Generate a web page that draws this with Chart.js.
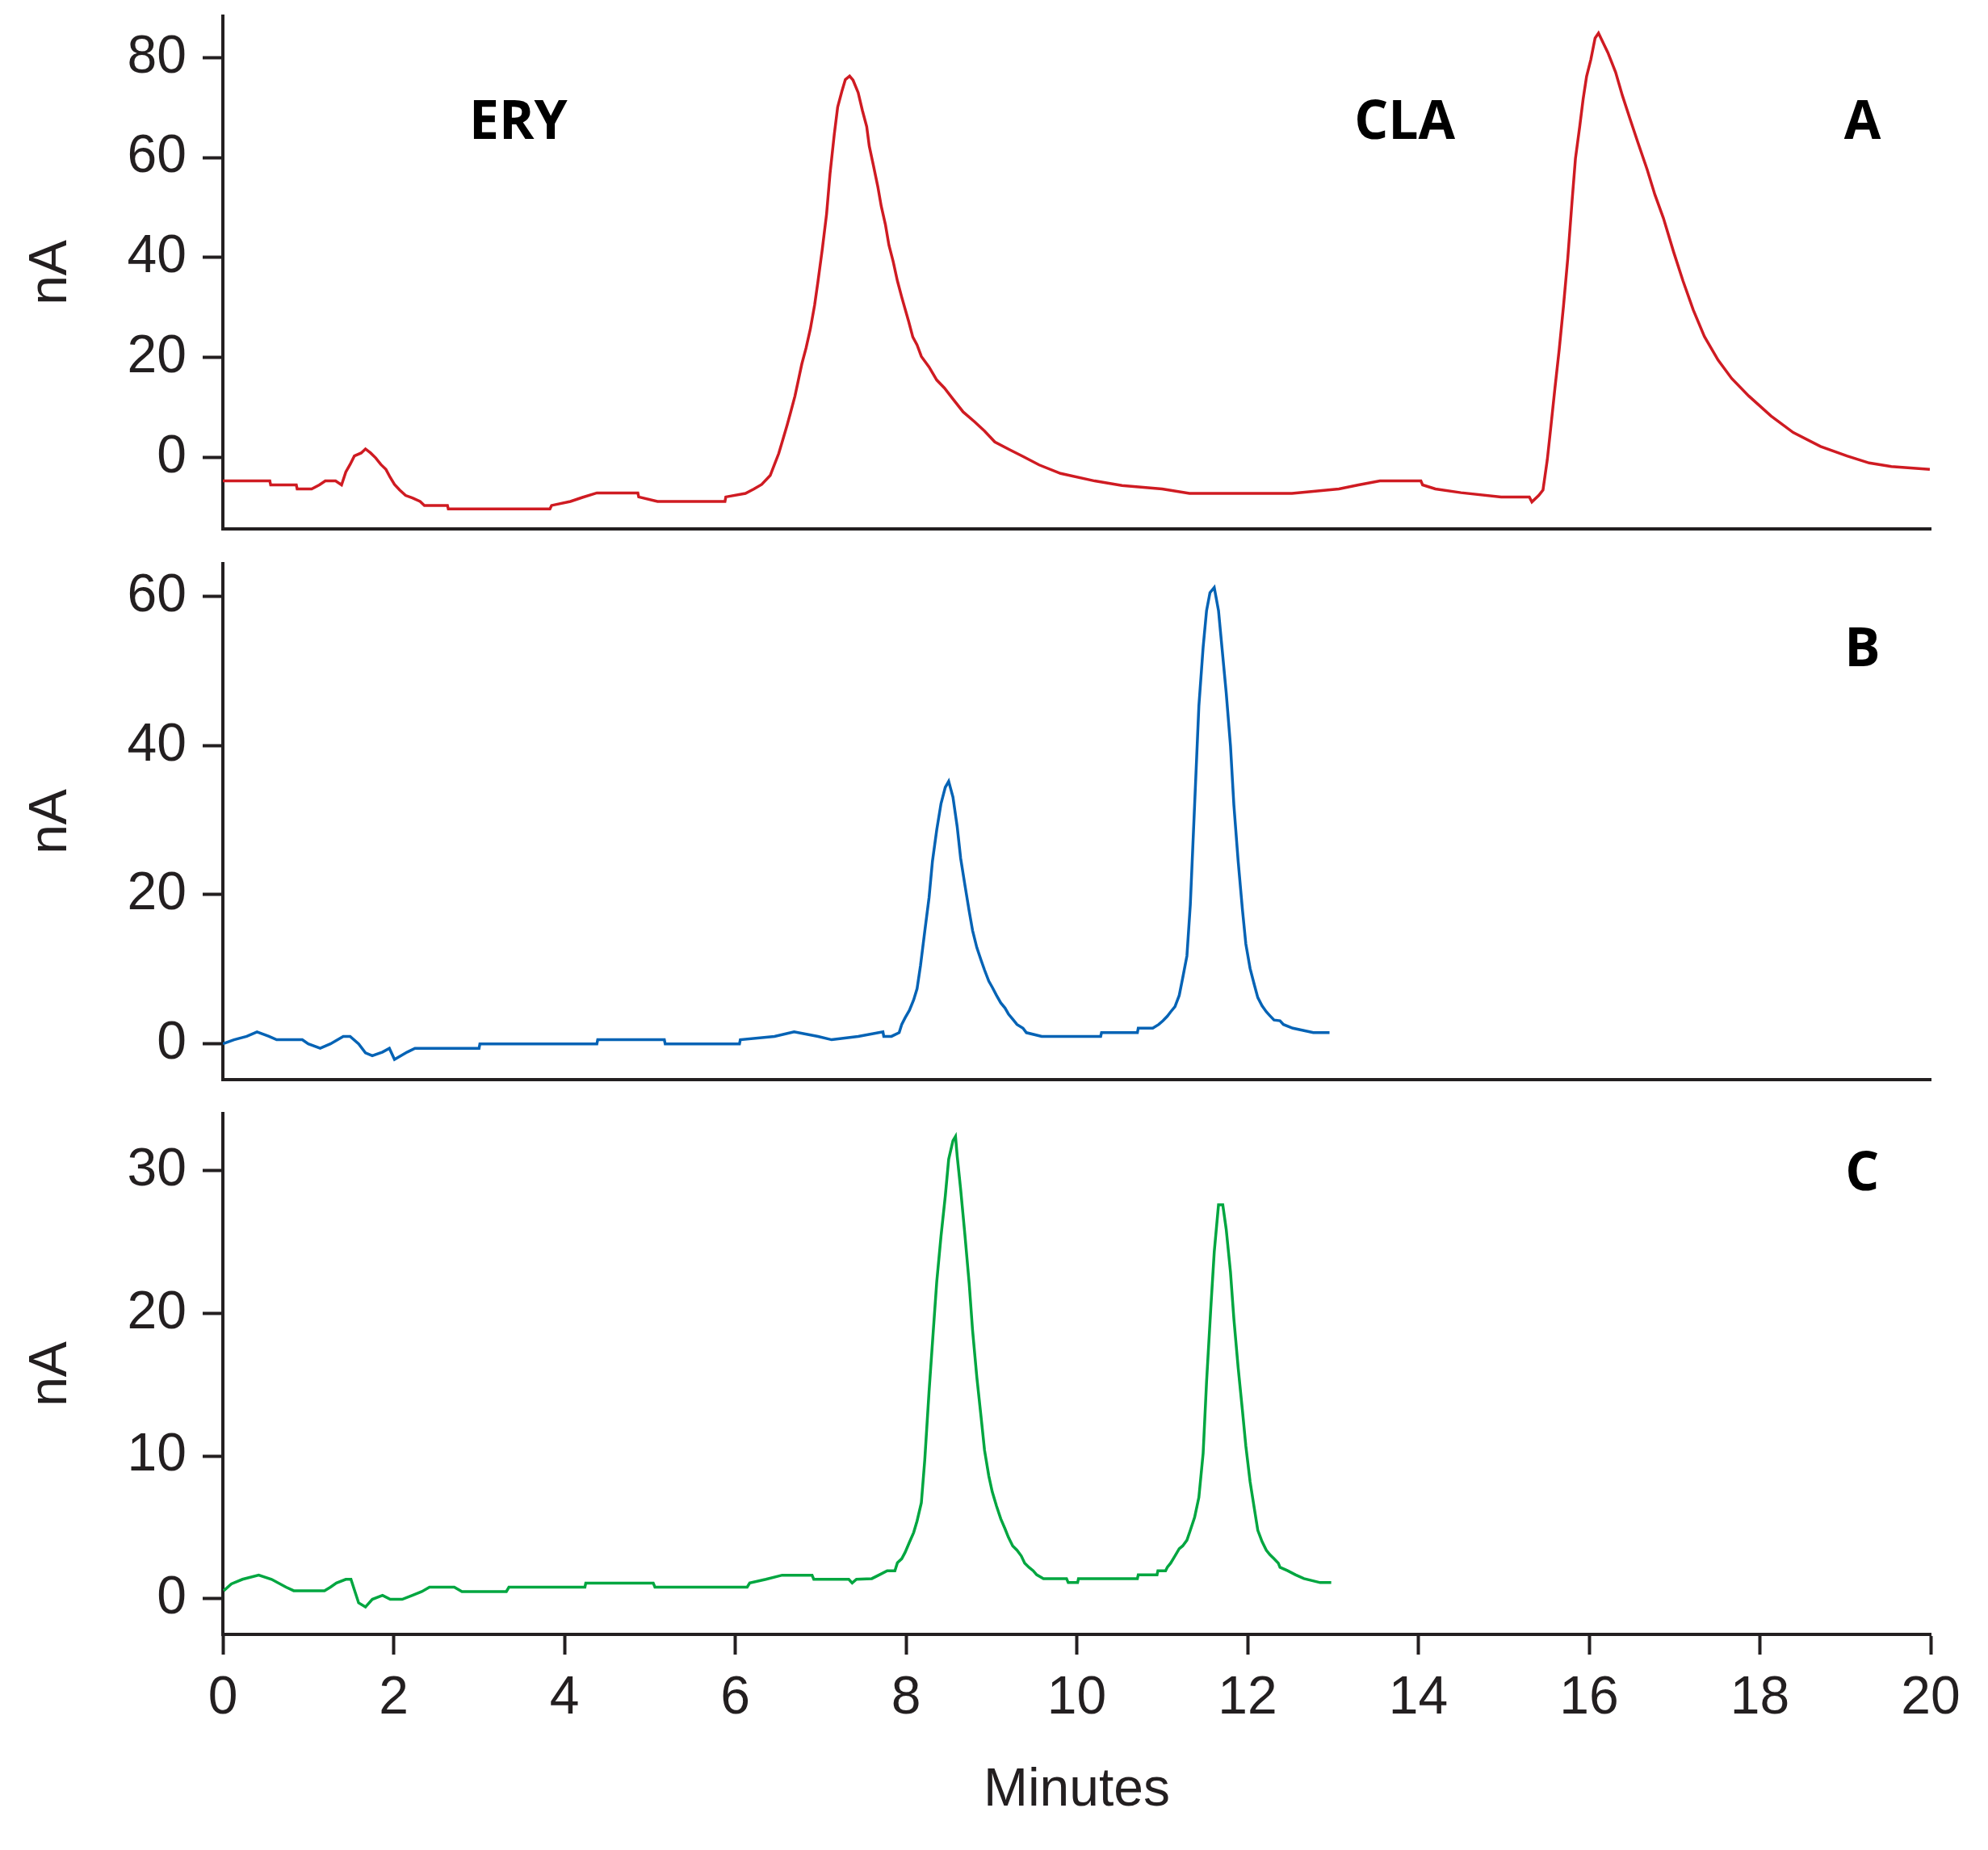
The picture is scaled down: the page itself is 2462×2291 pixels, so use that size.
<!DOCTYPE html>
<html>
<head>
<meta charset="utf-8">
<script src="https://cdn.jsdelivr.net/npm/chart.js@4.4.0/dist/chart.umd.min.js"></script>
<style>
  html, body { margin: 0; padding: 0; background: #fff; }
  body { width: 2462px; height: 2291px; position: relative; overflow: hidden; }
  canvas { position: absolute; left: 0; }
</style>
</head>
<body>
<canvas id="chartA" width="2462" height="690" style="top:0px"></canvas>
<canvas id="chartB" width="2462" height="690" style="top:680px"></canvas>
<canvas id="chartC" width="2462" height="931" style="top:1360px"></canvas>
<script>
// trace A (red) - time in minutes, signal in nA
const aTimes = [0.00, 0.55, 0.56, 0.86, 0.87, 1.04, 1.13, 1.20, 1.32, 1.39, 1.44, 1.49, 1.54, 1.62, 1.67, 1.73, 1.79, 1.85, 1.91, 1.96,
  2.01, 2.07, 2.14, 2.22, 2.31, 2.36, 2.63, 2.64, 3.83, 3.85, 4.07, 4.21, 4.38, 4.86, 4.87, 5.09, 5.88, 5.89, 6.12, 6.22,
  6.31, 6.41, 6.46, 6.51, 6.55, 6.61, 6.65, 6.70, 6.74, 6.78, 6.83, 6.88, 6.93, 6.97, 7.02, 7.07, 7.11, 7.16, 7.20, 7.25,
  7.29, 7.34, 7.38, 7.44, 7.49, 7.54, 7.57, 7.62, 7.67, 7.71, 7.76, 7.80, 7.85, 7.90, 7.95, 7.99, 8.03, 8.08, 8.13, 8.18,
  8.27, 8.36, 8.45, 8.55, 8.67, 8.80, 8.92, 9.04, 9.22, 9.37, 9.56, 9.81, 10.21, 10.53, 11.00, 11.32, 12.52, 13.07, 13.30, 13.55,
  14.03, 14.05, 14.20, 14.50, 14.97, 15.30, 15.33, 15.41, 15.46, 15.51, 15.55, 15.60, 15.65, 15.70, 15.75, 15.80, 15.84, 15.89, 15.93, 15.97,
  16.02, 16.07, 16.11, 16.22, 16.31, 16.39, 16.48, 16.57, 16.68, 16.77, 16.87, 16.99, 17.10, 17.22, 17.35, 17.51, 17.67, 17.87, 18.13, 18.39,
  18.71, 19.02, 19.28, 19.54, 19.99];
const aValues = [-4.7, -4.7, -5.5, -5.5, -6.3, -6.3, -5.5, -4.7, -4.7, -5.5, -2.9, -1.4, 0.3, 0.9, 1.7, 0.9, -0.1, -1.4, -2.4, -4.0,
  -5.4, -6.5, -7.6, -8.1, -8.8, -9.6, -9.6, -10.3, -10.3, -9.6, -8.8, -8.0, -7.1, -7.1, -7.9, -8.8, -8.8, -7.9, -7.2, -6.3,
  -5.4, -3.6, -1.4, 0.8, 3.1, 6.6, 9.1, 12.3, 15.5, 18.7, 21.9, 25.7, 30.5, 35.3, 41.7, 48.7, 56.7, 64.6, 70.1, 73.3,
  75.6, 76.3, 75.5, 73.0, 69.4, 66.2, 62.3, 58.3, 54.2, 50.3, 46.5, 42.5, 39.2, 35.3, 32.1, 29.7, 27.3, 24.1, 22.5, 20.2,
  18.1, 15.5, 13.9, 11.7, 9.1, 7.2, 5.3, 3.1, 1.5, 0.2, -1.5, -3.2, -4.7, -5.6, -6.3, -7.2, -7.2, -6.3, -5.5, -4.7,
  -4.7, -5.5, -6.3, -7.05, -7.9, -7.9, -8.9, -7.6, -6.5, -0.5, 5.8, 13.9, 21.6, 30.3, 39.8, 51.2, 59.8, 66.2, 71.7, 76.2,
  79.6, 83.9, 84.9, 81.0, 77.1, 72.4, 67.7, 63.1, 57.6, 52.6, 47.9, 41.1, 35.3, 29.5, 24.2, 19.5, 15.8, 12.3, 8.3, 5.0,
  2.2, 0.3, -1.1, -1.8, -2.4];

// trace B (blue)
const bTimes = [0.00, 0.13, 0.28, 0.40, 0.54, 0.63, 0.93, 1.00, 1.14, 1.26, 1.41, 1.49, 1.59, 1.67, 1.75, 1.87, 1.95, 2.01, 2.16, 2.25,
  3.00, 3.01, 4.38, 4.39, 5.17, 5.18, 6.05, 6.06, 6.46, 6.69, 6.97, 7.13, 7.44, 7.73, 7.74, 7.83, 7.92, 7.95, 7.99, 8.04,
  8.09, 8.13, 8.17, 8.22, 8.27, 8.31, 8.36, 8.41, 8.46, 8.50, 8.55, 8.60, 8.64, 8.69, 8.74, 8.78, 8.83, 8.88, 8.92, 8.97,
  9.01, 9.06, 9.11, 9.16, 9.20, 9.25, 9.30, 9.37, 9.41, 9.59, 10.28, 10.29, 10.71, 10.72, 10.89, 10.96, 11.01, 11.06, 11.10, 11.15,
  11.20, 11.24, 11.29, 11.33, 11.38, 11.43, 11.48, 11.52, 11.56, 11.61, 11.66, 11.70, 11.75, 11.80, 11.84, 11.89, 11.94, 11.98, 12.03, 12.08,
  12.12, 12.17, 12.22, 12.26, 12.31, 12.38, 12.42, 12.53, 12.77, 12.96];
const bValues = [0.0, 0.55, 1.0, 1.6, 1.0, 0.55, 0.55, 0.0, -0.6, 0.0, 1.0, 1.0, 0.0, -1.2, -1.6, -1.1, -0.6, -2.1, -1.1, -0.6,
  -0.6, 0.0, 0.0, 0.55, 0.55, 0.0, 0.0, 0.55, 1.0, 1.6, 1.0, 0.55, 1.0, 1.6, 1.0, 1.0, 1.5, 2.6, 3.5, 4.5,
  5.9, 7.4, 10.5, 15.1, 19.6, 24.5, 28.7, 32.2, 34.4, 35.2, 33.1, 29.1, 24.9, 21.3, 17.8, 15.2, 12.9, 11.2, 9.9, 8.4,
  7.6, 6.5, 5.5, 4.8, 4.0, 3.3, 2.6, 2.1, 1.5, 1.0, 1.0, 1.5, 1.5, 2.1, 2.1, 2.6, 3.1, 3.7, 4.3, 5.0,
  6.5, 8.8, 11.8, 18.7, 32.0, 45.3, 53.2, 58.1, 60.5, 61.2, 58.1, 53.2, 47.1, 40.0, 32.0, 24.5, 18.0, 13.4, 10.1, 7.9,
  6.2, 5.1, 4.3, 3.8, 3.2, 3.1, 2.6, 2.1, 1.5, 1.5];

// trace C (green)
const cTimes = [0.01, 0.10, 0.23, 0.42, 0.57, 0.74, 0.83, 1.19, 1.26, 1.33, 1.44, 1.50, 1.55, 1.59, 1.67, 1.75, 1.87, 1.96, 2.10, 2.22,
  2.33, 2.42, 2.71, 2.80, 3.32, 3.35, 4.24, 4.25, 5.04, 5.06, 6.14, 6.17, 6.36, 6.55, 6.90, 6.92, 7.33, 7.37, 7.42, 7.60,
  7.69, 7.78, 7.87, 7.90, 7.95, 7.99, 8.04, 8.09, 8.13, 8.18, 8.22, 8.27, 8.32, 8.36, 8.41, 8.46, 8.50, 8.55, 8.58, 8.60,
  8.64, 8.69, 8.74, 8.78, 8.83, 8.88, 8.92, 8.97, 9.01, 9.06, 9.11, 9.16, 9.20, 9.25, 9.30, 9.35, 9.39, 9.44, 9.49, 9.53,
  9.61, 9.88, 9.90, 10.01, 10.02, 10.71, 10.72, 10.94, 10.95, 11.04, 11.06, 11.10, 11.15, 11.20, 11.24, 11.29, 11.33, 11.38, 11.43, 11.48,
  11.52, 11.57, 11.61, 11.66, 11.71, 11.75, 11.80, 11.84, 11.89, 11.94, 11.98, 12.03, 12.08, 12.12, 12.17, 12.22, 12.26, 12.31, 12.36, 12.38,
  12.47, 12.56, 12.66, 12.85, 12.98];
const cValues = [0.56, 1.04, 1.36, 1.65, 1.36, 0.81, 0.56, 0.56, 0.81, 1.1, 1.36, 1.36, 0.44, -0.29, -0.58, -0.04, 0.24, -0.04, -0.04, 0.24,
  0.5, 0.81, 0.81, 0.5, 0.5, 0.81, 0.81, 1.1, 1.1, 0.81, 0.81, 1.1, 1.36, 1.65, 1.65, 1.36, 1.36, 1.1, 1.36, 1.41,
  1.68, 1.96, 1.96, 2.52, 2.8, 3.25, 3.95, 4.64, 5.45, 6.73, 9.73, 14.5, 18.8, 22.2, 25.4, 28.2, 30.8, 32.1, 32.4, 31.0,
  28.7, 25.5, 22.1, 18.8, 15.5, 12.7, 10.4, 8.6, 7.5, 6.5, 5.6, 4.9, 4.3, 3.7, 3.4, 3.0, 2.5, 2.2, 1.96, 1.68,
  1.41, 1.41, 1.13, 1.13, 1.41, 1.41, 1.68, 1.68, 1.96, 1.96, 2.2, 2.5, 3.0, 3.5, 3.7, 4.1, 4.8, 5.7, 7.1, 10.2,
  15.2, 20.4, 24.3, 27.6, 27.6, 25.9, 22.9, 19.6, 16.2, 13.2, 10.7, 8.2, 6.3, 4.8, 4.0, 3.4, 3.1, 2.8, 2.5, 2.2,
  1.96, 1.68, 1.41, 1.13, 1.13];

// tick labels
const xTicks = [0, 2, 4, 6, 8, 10, 12, 14, 16, 18, 20];
const aTicks = [0, 20, 40, 60, 80];
const bTicks = [0, 20, 40, 60];
const cTicks = [0, 10, 20, 30];

// peak names and panel letters
const aNotes = [{ text: "ERY", x: 3.46, y: 66.8 }, { text: "CLA", x: 13.84, y: 66.8 }, { text: "A", x: 19.2, y: 66.8 }];
const bNotes = [{ text: "B", x: 19.2, y: 52.7 }];
const cNotes = [{ text: "C", x: 19.2, y: 29.7 }];

const axisColor = "#231f20";
const tickFont = { family: "'Liberation Sans', Arial, sans-serif", size: 66, weight: "normal" };

function toPoints(times, values) {
  return times.map(function (t, i) { return { x: t, y: values[i] }; });
}

function notesPlugin(notes) {
  return {
    id: "notes",
    afterDatasetsDraw(chart) {
      const ctx = chart.ctx;
      ctx.save();
      ctx.font = "bold 66px 'Open Sans', sans-serif";
      ctx.fillStyle = "#000";
      ctx.textAlign = "center";
      ctx.textBaseline = "middle";
      notes.forEach(function (n) {
        ctx.fillText(n.text, chart.scales.x.getPixelForValue(n.x), chart.scales.y.getPixelForValue(n.y));
      });
      ctx.restore();
    }
  };
}

function makePanel(id, points, color, yMin, yMax, yTicks, notes, topPad, xHeight, isBottom) {
  const config = {
    type: "line",
    data: {
      datasets: [{
        data: points,
        borderColor: color,
        borderWidth: 3.5,
        pointRadius: 0,
        tension: 0,
        fill: false
      }]
    },
    options: {
      responsive: false,
      animation: false,
      devicePixelRatio: 1,
      layout: { padding: { top: topPad, right: 71, left: 0, bottom: 0 } },
      plugins: { legend: { display: false }, tooltip: { enabled: false } },
      scales: {
        x: {
          type: "linear",
          min: 0,
          max: 20,
          border: { display: true, color: axisColor, width: 4 },
          grid: { display: isBottom, drawOnChartArea: false, drawTicks: true, tickLength: 25, tickWidth: 4, tickColor: axisColor },
          ticks: { display: isBottom, font: tickFont, color: axisColor, padding: 15, maxRotation: 0, autoSkip: false },
          afterBuildTicks: function (s) { s.ticks = xTicks.map(function (v) { return { value: v }; }); },
          afterFit: function (s) { s.height = xHeight; s.paddingLeft = 0; s.paddingRight = 0; },
          title: { display: isBottom, text: "Minutes", font: tickFont, color: axisColor, padding: { top: 0, bottom: 34 } }
        },
        y: {
          type: "linear",
          min: yMin,
          max: yMax,
          border: { display: true, color: axisColor, width: 4 },
          grid: { drawOnChartArea: false, drawTicks: true, tickLength: 25, tickWidth: 4, tickColor: axisColor },
          ticks: { font: tickFont, color: axisColor, padding: 20 },
          afterBuildTicks: function (s) { s.ticks = yTicks.map(function (v) { return { value: v }; }); },
          afterFit: function (s) { s.width = 276; s.paddingTop = 0; s.paddingBottom = 0; },
          title: { display: true, text: "nA", font: tickFont, color: axisColor, padding: { top: 24, bottom: 0 } }
        }
      }
    },
    plugins: [notesPlugin(notes)]
  };
  return new Chart(document.getElementById(id), config);
}

makePanel("chartA", toPoints(aTimes, aValues), "#cf1b22", -14.3, 88.3, aTicks, aNotes, 20, 35, false);
makePanel("chartB", toPoints(bTimes, bValues), "#0563b5", -4.8, 64.4, bTicks, bNotes, 18, 33, false);
makePanel("chartC", toPoints(cTimes, cValues), "#00a640", -2.5, 34.0, cTicks, cNotes, 19, 267, true);
</script>
</body>
</html>
